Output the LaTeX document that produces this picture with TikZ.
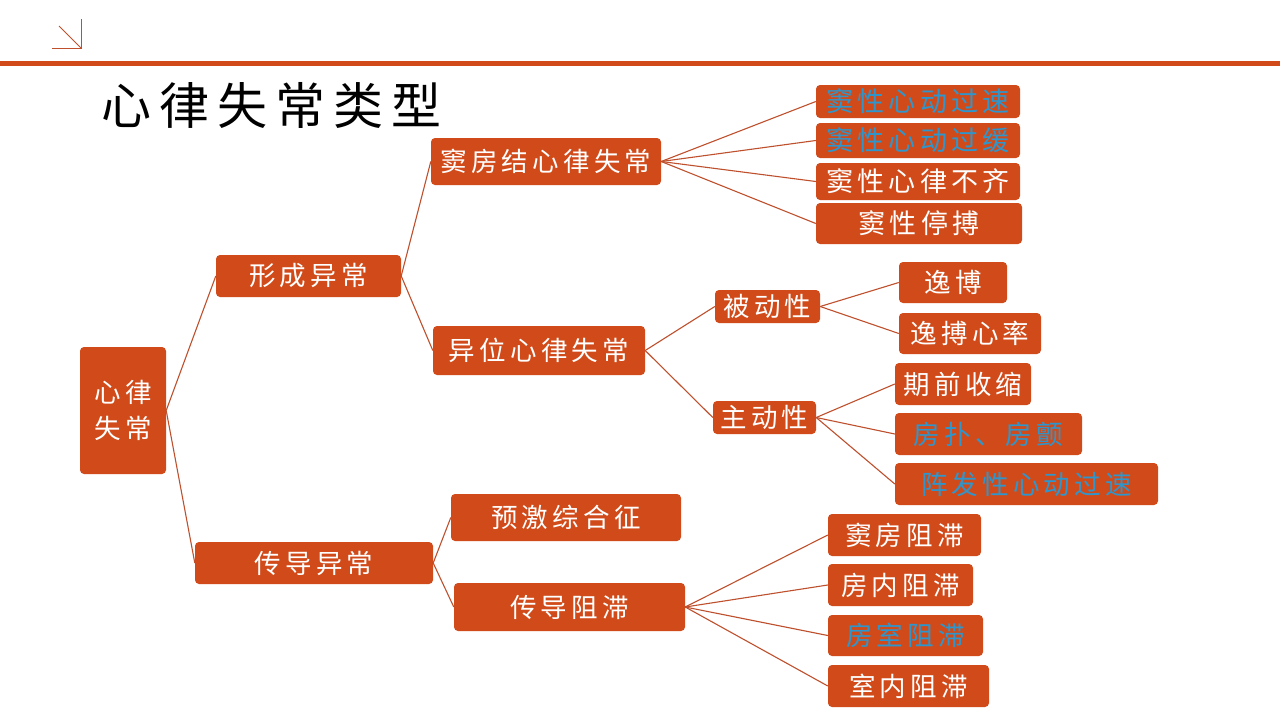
\documentclass[tikz,border=0pt]{standalone}
\usepackage{fontspec}
\newfontfamily\cjk{Noto Sans CJK SC}[LetterSpace=16]
\definecolor{orng}{RGB}{209,75,26}
\definecolor{lnc}{RGB}{190,80,45}
\definecolor{bltx}{RGB}{45,150,205}
\tikzset{
  box/.style={fill=orng, rounded corners=4pt, inner sep=0pt, text=white, align=center,
    font=\cjk\fontsize{26.5}{36}\selectfont},
  bigbox/.style={box, font=\cjk\fontsize{27}{36}\selectfont},
  blue/.style={text=bltx},
  conn/.style={draw=lnc, line width=1.1pt},
}
\begin{document}
\begin{tikzpicture}[x=1pt,y=-1pt]
\useasboundingbox (0,0) rectangle (1280,720);
\fill[white] (0,0) rectangle (1280,720);
% header
\fill[orng] (0,61) rectangle (1280,66);
\coordinate (i1) at (81,19);
\coordinate (i2) at (81,48);
\coordinate (i3) at (52,48);
\coordinate (i4) at (59,26);
\draw[lnc, line width=0.9pt] (i1) -- (i2) -- (i3);
\draw[lnc, line width=0.9pt] (i4) -- (i2);
\node[anchor=west, inner sep=0pt, font=\cjk\fontsize{50}{52}\selectfont] (title) at (101,105) {心律失常类型};
% nodes
\node[box, minimum width=86pt, minimum height=127pt] (root) at (123,410.5) {心律\\失常};
\node[box, minimum width=185pt, minimum height=42pt] (f1) at (308.5,276) {形成异常};
\node[box, minimum width=238pt, minimum height=42pt] (f2) at (314,563) {传导异常};
\node[box, minimum width=230pt, minimum height=47pt] (a1) at (546,161.5) {窦房结心律失常};
\node[box, minimum width=212pt, minimum height=49pt] (a2) at (539,350.5) {异位心律失常};
\node[box, minimum width=230pt, minimum height=47pt] (b1) at (566,517.5) {预激综合征};
\node[box, minimum width=231pt, minimum height=48pt] (b2) at (569.5,607) {传导阻滞};
\node[bigbox, blue, minimum width=204pt, minimum height=33pt] (c1) at (918,101.5) {窦性心动过速};
\node[bigbox, blue, minimum width=204pt, minimum height=35pt] (c2) at (918,140.5) {窦性心动过缓};
\node[bigbox, minimum width=204pt, minimum height=37pt] (c3) at (918,181.5) {窦性心律不齐};
\node[bigbox, minimum width=206pt, minimum height=41pt] (c4) at (919,223.5) {窦性停搏};
\node[box, minimum width=105pt, minimum height=33pt] (d1) at (767.5,306.5) {被动性};
\node[box, minimum width=103pt, minimum height=33pt] (d2) at (764.5,417.5) {主动性};
\node[box, minimum width=108pt, minimum height=41pt] (e1) at (953,282.5) {逸博};
\node[box, minimum width=142pt, minimum height=41pt] (e2) at (970,333.5) {逸搏心率};
\node[box, minimum width=136pt, minimum height=42pt] (e3) at (963,384) {期前收缩};
\node[box, blue, minimum width=187pt, minimum height=42pt] (e4) at (988.5,434) {房扑、房颤};
\node[box, blue, minimum width=263pt, minimum height=42pt] (e5) at (1026.5,484) {阵发性心动过速};
\node[box, minimum width=153pt, minimum height=42pt] (g1) at (904.5,535) {窦房阻滞};
\node[box, minimum width=145pt, minimum height=42pt] (g2) at (900.5,585) {房内阻滞};
\node[box, blue, minimum width=155pt, minimum height=41pt] (g3) at (905.5,635.5) {房室阻滞};
\node[box, minimum width=161pt, minimum height=42pt] (g4) at (908.5,686) {室内阻滞};
% connectors
\foreach \a/\b in {root/f1, root/f2, f1/a1, f1/a2, f2/b1, f2/b2,
  a1/c1, a1/c2, a1/c3, a1/c4, a2/d1, a2/d2, d1/e1, d1/e2, d2/e3, d2/e4, d2/e5,
  b2/g1, b2/g2, b2/g3, b2/g4}
  \draw[conn] (\a.east) -- (\b.west);
\end{tikzpicture}
\end{document}
